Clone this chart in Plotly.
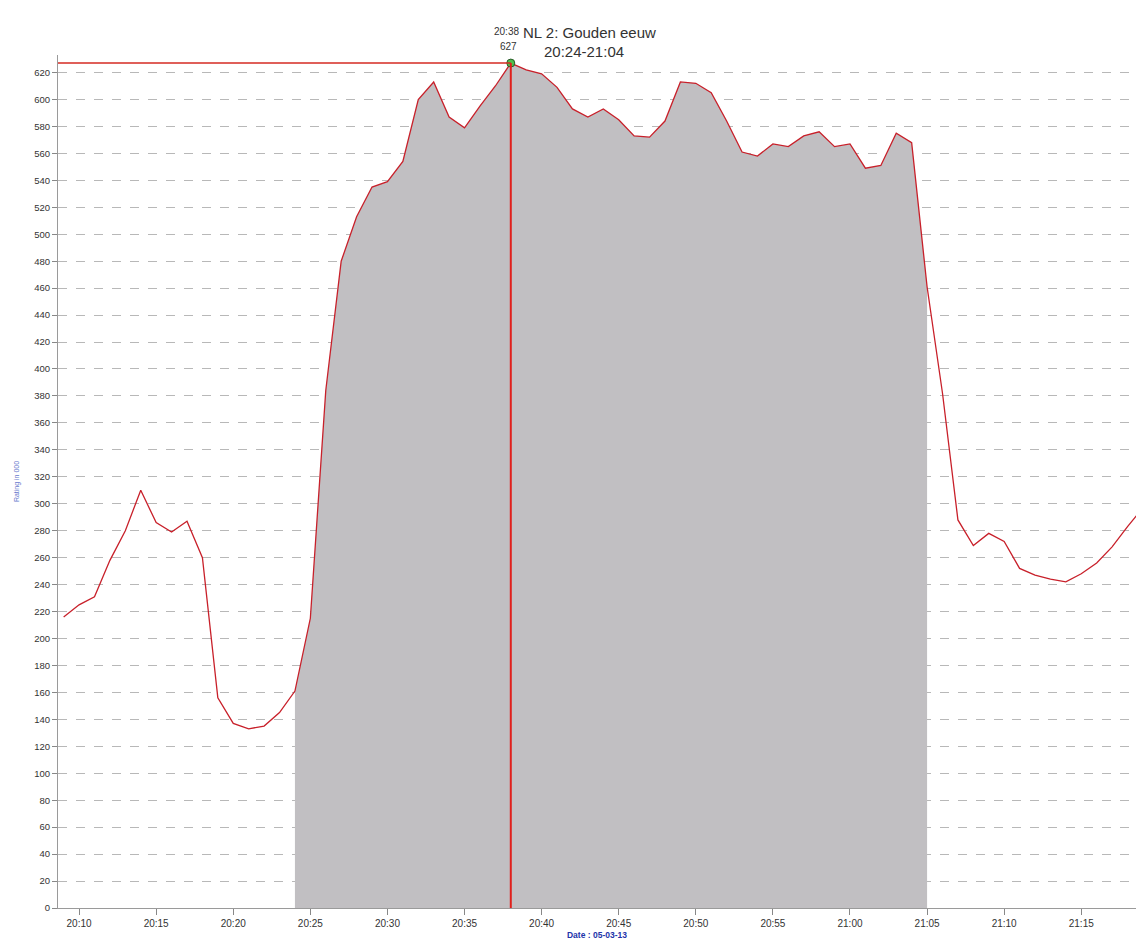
import plotly.graph_objects as go
import pandas as pd
import numpy as np

# Minute-by-minute ratings (x 1000), 05-03-2013, 20:09 .. 21:19
start_time = "2013-03-05 20:09"
ratings = [
    216, 225, 231, 258, 280, 310, 286, 279, 287, 260,   # 20:09-20:18
    156, 137, 133, 135, 145, 161, 215, 384, 480, 513,   # 20:19-20:28
    535, 539, 554, 600, 613, 587, 579, 595, 610, 627,   # 20:29-20:38
    622, 619, 609, 593, 587, 593, 585, 573, 572, 584,   # 20:39-20:48
    613, 612, 605, 584, 561, 558, 567, 565, 573, 576,   # 20:49-20:58
    565, 567, 549, 551, 575, 568, 461, 382, 288, 269,   # 20:59-21:08
    278, 272, 252, 247, 244, 242, 248, 256, 268, 283,   # 21:09-21:18
    297,                                                # 21:19
]
times = pd.date_range(start_time, periods=len(ratings), freq="1min")

programme_title = "NL 2: Gouden eeuw"
programme_slot = "20:24-21:04"
prog_start = pd.Timestamp("2013-03-05 20:24")
prog_end = pd.Timestamp("2013-03-05 21:05")
date_label = "Date : 05-03-13"
y_title = "Rating in 000"
y_ticks = list(range(0, 621, 20))

x_min = pd.Timestamp("2013-03-05 20:08:38")
x_max = pd.Timestamp("2013-03-05 21:18:33")

r = np.array(ratings)
mask = (times >= prog_start) & (times <= prog_end)
peak_i = int(np.argmax(r))
peak_t = times[peak_i]
peak_v = int(r[peak_i])

fig = go.Figure()
fig.add_trace(go.Scatter(
    x=times[mask], y=r[mask], mode="lines", line=dict(width=0, color="#c1bfc2"),
    fill="tozeroy", fillcolor="#c1bfc2", hoverinfo="skip", showlegend=False))
fig.add_trace(go.Scatter(
    x=times, y=r, mode="lines", line=dict(color="#c8202a", width=1.3),
    showlegend=False))

# peak crosshair lines
fig.add_shape(type="line", x0=peak_t, x1=peak_t, y0=0, y1=peak_v,
              line=dict(color="#e0201c", width=2), layer="above")
fig.add_shape(type="line", x0=x_min, x1=peak_t, y0=peak_v, y1=peak_v,
              line=dict(color="#d42a22", width=1.5), layer="above")
fig.add_trace(go.Scatter(
    x=[peak_t], y=[peak_v], mode="markers",
    marker=dict(symbol="circle", size=8, color="#4fc04a", line=dict(color="#2a5a2a", width=1)),
    showlegend=False, cliponaxis=False))

fig.add_annotation(x=peak_t, y=peak_v, text=peak_t.strftime("%H:%M"),
                   showarrow=False, yshift=32, xshift=-4, font=dict(size=10, color="#333333",
                   family="Liberation Sans"))
fig.add_annotation(x=peak_t, y=peak_v, text=str(peak_v),
                   showarrow=False, yshift=17, xshift=-2, font=dict(size=10, color="#333333",
                   family="Liberation Sans"))

# title lines
fig.add_annotation(x=0.493, xref="paper", y=1, yref="paper", yshift=33, text=programme_title,
                   showarrow=False, font=dict(size=15, color="#333333", family="Liberation Sans"))
fig.add_annotation(x=0.488, xref="paper", y=1, yref="paper", yshift=14, text=programme_slot,
                   showarrow=False, font=dict(size=15, color="#333333", family="Liberation Sans"))

fig.update_layout(
    width=1136, height=942,
    margin=dict(l=58, r=0, t=55, b=34, autoexpand=False),
    paper_bgcolor="white", plot_bgcolor="white",
    font=dict(family="Liberation Sans", color="#333333"),
)
fig.update_xaxes(
    type="date", range=[x_min, x_max], tickformat="%H:%M", dtick=300000,
    tick0="2013-03-05 20:10", ticks="outside", ticklen=6, tickcolor="#888888",
    showgrid=False, showline=True, linecolor="#9a9a9a", linewidth=1,
    tickfont=dict(size=10, color="#333333"),
    title=dict(text="<b>" + date_label + "</b>", font=dict(size=8.5, color="#2233aa"), standoff=4),
    zeroline=False, automargin=False)
fig.update_yaxes(
    range=[0, 633], tickvals=y_ticks, ticks="outside", ticklen=5, tickcolor="#888888",
    showgrid=True, gridcolor="#b8b8b8", griddash="dash", gridwidth=1,
    showline=True, linecolor="#9a9a9a", linewidth=1, zeroline=False,
    tickfont=dict(size=9.5, color="#333333"),
    title=dict(text=y_title, font=dict(size=7, color="#6677cc"), standoff=13),
    automargin=False)

fig.write_html("out.html", config={"displayModeBar": False},
               post_script="document.body.style.margin='0';document.body.style.overflow='hidden';")
